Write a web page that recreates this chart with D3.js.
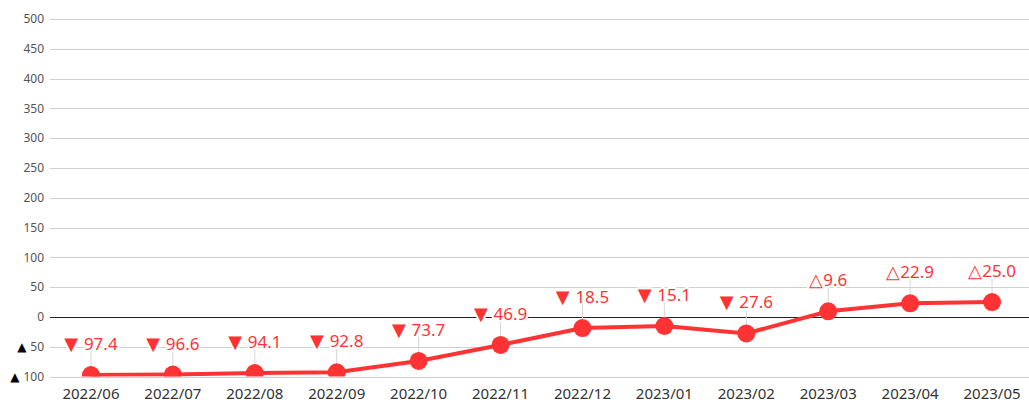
<!DOCTYPE html>
<html>
<head>
<meta charset="utf-8">
<script src="https://cdn.jsdelivr.net/npm/d3@7"></script>
<style>
  body{margin:0;background:#fff;}
  svg{display:block;font-family:"Noto Sans","Open Sans",sans-serif;}
</style>
</head>
<body>
<script>
// months on the x axis
const months=['2022/06','2022/07','2022/08','2022/09','2022/10','2022/11','2022/12','2023/01','2023/02','2023/03','2023/04','2023/05'];
// year-over-year change (%)
const values=[-97.4,-96.6,-94.1,-92.8,-73.7,-46.9,-18.5,-15.1,-27.6,9.6,22.9,25.0];
const yTicks=[-100,-50,0,50,100,150,200,250,300,350,400,450,500];

const W=1029,H=403;
const plotL=50,plotR=1033,plotT=19,plotB=376.6;
const red='#ff3333';

const svg=d3.select('body').append('svg').attr('width',W).attr('height',H);

const x=d3.scaleBand().domain(months).range([plotL,plotR]);
const y=d3.scaleLinear().domain([-100,500]).range([plotB,plotT]);

// grid
svg.append('g').selectAll('line').data(yTicks).enter().append('line')
  .attr('x1',plotL).attr('x2',W)
  .attr('y1',d=>Math.round(y(d))+0.5).attr('y2',d=>Math.round(y(d))+0.5)
  .attr('stroke',d=>d===0?'#222':'#cfcfcf').attr('stroke-width',1);

// y tick labels
const yl=svg.append('g').selectAll('text').data(yTicks).enter().append('text')
  .attr('x',44).attr('y',d=>y(d)).attr('dy','0.35em')
  .attr('text-anchor','end').attr('font-size',12).attr('fill','#555');
yl.each(function(d){
  const t=d3.select(this);
  if(d<0){
    t.append('tspan').attr('fill','#000').attr('font-size',12).attr('font-family','DejaVu Sans').text('▲ ');
    t.append('tspan').text(Math.abs(d));
  } else t.text(d);
});

// x labels
svg.append('g').selectAll('text').data(months).enter().append('text')
  .attr('x',d=>x(d)+x.bandwidth()/2).attr('y',399)
  .attr('text-anchor','middle').attr('font-size',15).attr('fill','#333')
  .text(d=>d);

svg.append('clipPath').attr('id','plot').append('rect')
  .attr('x',0).attr('y',0).attr('width',W).attr('height',plotB);

const cx=(d,i)=>x(months[i])+x.bandwidth()/2;

// leader lines
svg.append('g').selectAll('line').data(values).enter().append('line')
  .attr('x1',cx).attr('x2',cx)
  .attr('y1',d=>y(d)).attr('y2',d=>y(d)-24)
  .attr('stroke','#d6d6d6').attr('stroke-width',1);

const plot=svg.append('g').attr('clip-path','url(#plot)');
plot.append('path').datum(values)
  .attr('d',d3.line().x(cx).y(d=>y(d)))
  .attr('fill','none').attr('stroke',red).attr('stroke-width',4);
plot.selectAll('circle').data(values).enter().append('circle')
  .attr('cx',cx).attr('cy',d=>y(d)).attr('r',9).attr('fill',red);

// data labels
const lab=svg.append('g').selectAll('text').data(values).enter().append('text')
  .attr('x',cx).attr('y',d=>y(d)-25)
  .attr('text-anchor','middle').attr('font-size',17).attr('fill',red)
  .attr('stroke','#fff').attr('stroke-width',4).attr('paint-order','stroke')
  .attr('stroke-linejoin','round');
lab.each(function(d){
  const t=d3.select(this);
  if(d<0){
    t.append('tspan').attr('font-size',18).attr('font-family','DejaVu Sans').text('▼ ');
    t.append('tspan').text(Math.abs(d).toFixed(1));
  } else {
    t.append('tspan').attr('font-size',18).text('△');
    t.append('tspan').text(d.toFixed(1));
  }
});
</script>
</body>
</html>
